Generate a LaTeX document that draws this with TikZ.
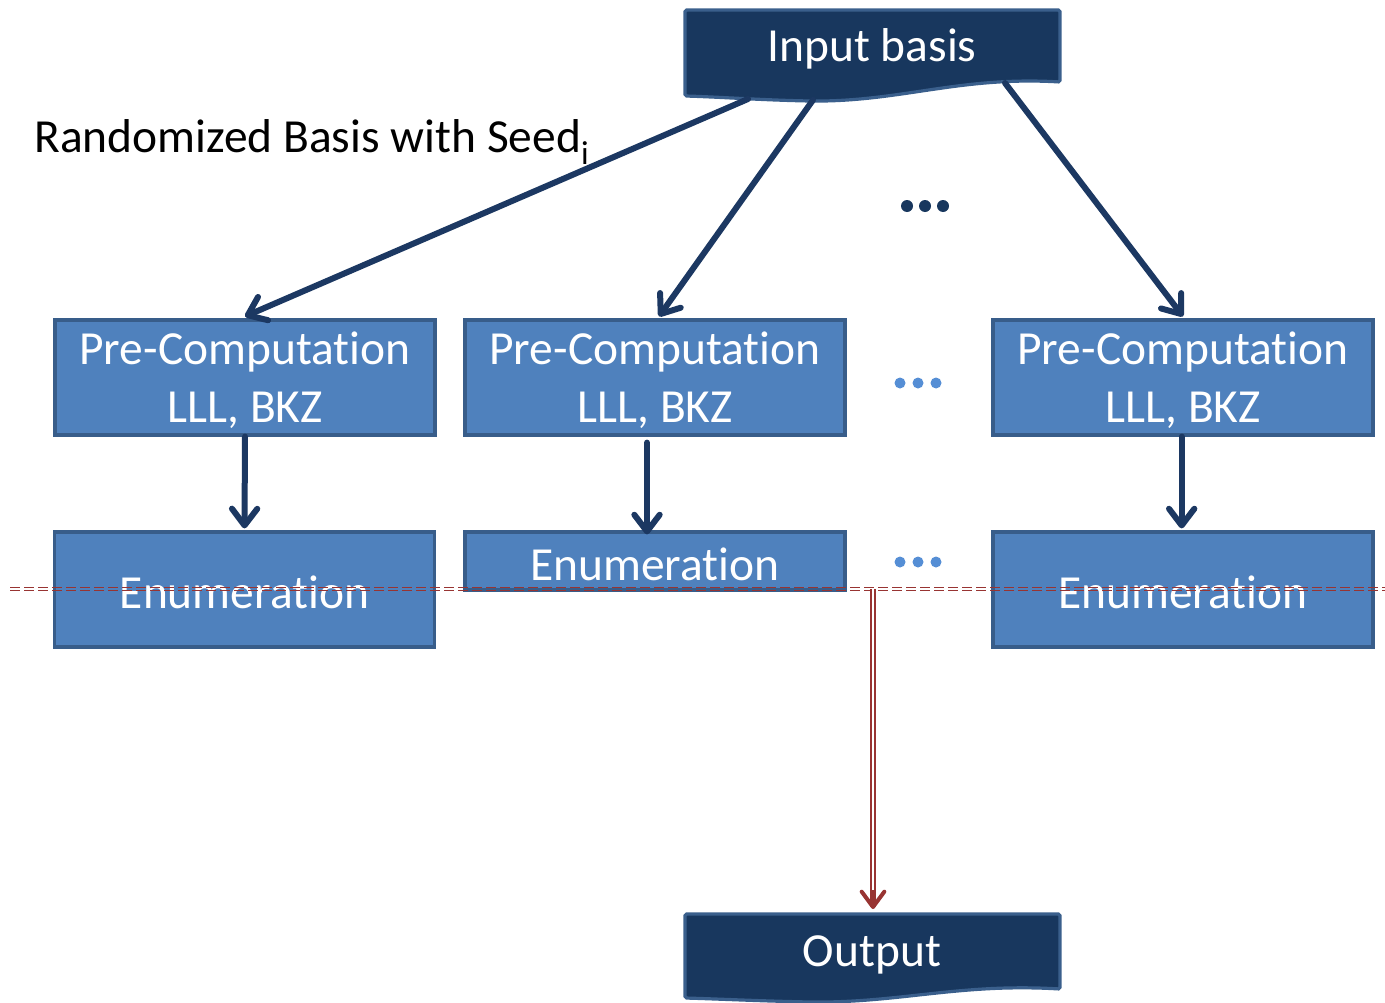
\documentclass[tikz,border=0pt]{standalone}
\usepackage{fontspec}
\setmainfont{Carlito}[Ligatures={NoCommon,NoRare}]
\usetikzlibrary{arrows.meta}
\definecolor{navy}{RGB}{24,55,94}
\definecolor{navyedge}{RGB}{58,95,140}
\definecolor{boxblue}{RGB}{79,129,189}
\definecolor{boxedge}{RGB}{56,93,138}
\definecolor{arrownavy}{RGB}{28,56,98}
\definecolor{dotblue}{RGB}{85,142,213}
\definecolor{redline}{RGB}{152,52,50}
\newcommand\myti{t\kern0pt i}
\begin{document}
\begin{tikzpicture}[x=0.75pt,y=-0.75pt,
  every node/.style={font=\fontsize{35.6}{43.5}\selectfont, inner sep=0pt},
  bluebox/.style={draw=boxedge, fill=boxblue, line width=2.4pt,
     minimum width=285pt, minimum height=86.25pt},
  boxtext/.style={text=white, align=center},
  docshape/.style={draw=navyedge, fill=navy, line width=2.4pt, rounded corners=1.2pt},
  conn/.style={draw=arrownavy, line width=4.5pt, line cap=round,
     -{Straight Barb[length=12.5pt,width=19pt,round]}},
  redconn/.style={draw=redline, line width=1.1pt, double distance=1.6pt},
  redtip/.style={draw=redline, line width=3pt, -{Straight Barb[length=11.5pt,width=17pt,round]}},
  reddash/.style={draw=redline, line width=1.1pt, dash pattern=on 7.5pt off 3pt},
  bigdot/.style={fill=navy},
  smalldot/.style={fill=dotblue}
]
\useasboundingbox (0,0) rectangle (1385,1003);

% Input basis (document shape)
\draw[docshape] (685,10) -- (1060,10) -- (1060,82)
  .. controls (960,76) and (900,102) .. (810,101)
  .. controls (760,100) and (720,97) .. (685,96) -- cycle;
\node[text=white] (inp) at (872,49) {Input basis};
\coordinate (inA) at (748,99);
\coordinate (inB) at (813,100);
\coordinate (inC) at (1005,83);

% Output (document shape)
\draw[docshape] (685,914) -- (1060,914) -- (1060,989)
  .. controls (960,983) and (900,1003) .. (810,1002)
  .. controls (760,1001) and (720,999) .. (685,998) -- cycle;
\node[text=white] (outp) at (872,955) {Output};
\coordinate (outtop) at (873,909);
\coordinate (tipstart) at (873,890);

% Label
\node[anchor=west] (lbl) at (34,142) {Randomized Basis with Seed\textsubscript{i}};

% Pre-computation boxes
\node[bluebox] (pc1) at (245,377.5) {};
\node[bluebox] (pc2) at (655,377.5) {};
\node[bluebox] (pc3) at (1183,377.5) {};
\node[boxtext] (pc1t) at (245,380) {Pre-Computa\myti on\\LLL, BKZ};
\node[boxtext] (pc2t) at (655,380) {Pre-Computa\myti on\\LLL, BKZ};
\node[boxtext] (pc3t) at (1183,380) {Pre-Computa\myti on\\LLL, BKZ};

% Enumeration boxes
\node[bluebox] (en1) at (244.5,589.5) {};
\node[bluebox, minimum height=43.5pt] (en2) at (655,561) {};
\node[bluebox] (en3) at (1183,589.5) {};
\node[boxtext] (en1t) at (244.5,592) {Enumera\myti on};
\node[boxtext] (en2t) at (655,564) {Enumera\myti on};
\node[boxtext] (en3t) at (1183,592) {Enumera\myti on};

% Connectors
\draw[conn] (inA) -- ([yshift=1.5pt]pc1.north);
\draw[conn] (inB) -- ([xshift=3,yshift=1.5pt]pc2.north);
\draw[conn] (inC) -- ([yshift=1.5pt]pc3.north);
\draw[conn] (pc1.south) -- ([yshift=1.5pt]en1.north);
\draw[conn, shorten <=4.5pt, shorten >=-3pt] ([xshift=-6]pc2.south) -- ([xshift=-6]en2.north);
\draw[conn] ([xshift=-1]pc3.south) -- ([xshift=-1,yshift=1.5pt]en3.north);

% Dots
\foreach \x in {907,925,943} \fill[bigdot] (\x,206) circle (6);
\foreach \x in {900,918,936} {
  \fill[smalldot] (\x,383) circle (5.5);
  \fill[smalldot] (\x,562) circle (5.5);
}

% Red dashed double line and output connector
\draw[reddash] (10,587.5) -- (1385,587.5);
\draw[reddash] (10,590.5) -- (1385,590.5);
\coordinate (junc) at (873,589);
\draw[redconn] (junc) -- ([yshift=1.5pt]outtop);
\draw[redtip] (tipstart) -- (outtop);
\end{tikzpicture}
\end{document}
